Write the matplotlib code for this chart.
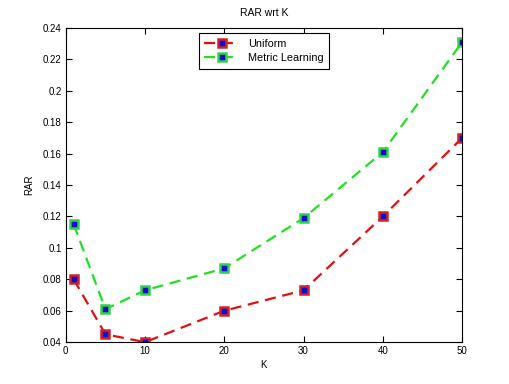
import matplotlib
matplotlib.use("Agg")
import matplotlib.pyplot as plt

k_values = [1, 5, 10, 20, 30, 40, 50]
rar_uniform = [0.080, 0.045, 0.040, 0.060, 0.073, 0.120, 0.170]
rar_metric = [0.115, 0.061, 0.073, 0.087, 0.119, 0.161, 0.231]

x_ticks = [0, 10, 20, 30, 40, 50]
y_ticks = [0.04, 0.06, 0.08, 0.1, 0.12, 0.14, 0.16, 0.18, 0.2, 0.22, 0.24]
y_tick_labels = ["0.04", "0.06", "0.08", "0.1", "0.12", "0.14", "0.16",
                 "0.18", "0.2", "0.22", "0.24"]

plt.rcParams["font.family"] = ["Liberation Sans", "DejaVu Sans"]
plt.rcParams["font.size"] = 7

fig = plt.figure(figsize=(5.1, 3.84), dpi=100)
ax = fig.add_axes([0.129, 0.109, 0.777, 0.818])

ax.plot(k_values, rar_uniform, "--s", color="#e01010", linewidth=1.6,
        markersize=6, markerfacecolor="#1010c0", markeredgecolor="#d02030",
        markeredgewidth=1.8, dashes=(5, 3), label="Uniform")
ax.plot(k_values, rar_metric, "--s", color="#20e020", linewidth=1.6,
        markersize=6, markerfacecolor="#1010c0", markeredgecolor="#30d050",
        markeredgewidth=1.8, dashes=(5, 3), label="Metric Learning")

ax.set_xlim(0, 50)
ax.set_ylim(0.04, 0.24)
ax.set_xticks(x_ticks)
ax.set_yticks(y_ticks)
ax.set_yticklabels(y_tick_labels)
ax.tick_params(direction="in", top=True, right=True, length=4, pad=3)

ax.set_xlabel("K", labelpad=3)
ax.set_ylabel("RAR", labelpad=6)
ax.set_title("RAR wrt K", fontsize=7.5, pad=9)

leg = ax.legend(loc="upper center", fancybox=False, framealpha=1,
                edgecolor="black", handlelength=3.2, borderpad=0.5,
                labelspacing=0.4, fontsize=7.8, bbox_to_anchor=(0.5, 1.0))
leg.get_frame().set_linewidth(0.8)

fig.savefig("out.png", dpi=100)
